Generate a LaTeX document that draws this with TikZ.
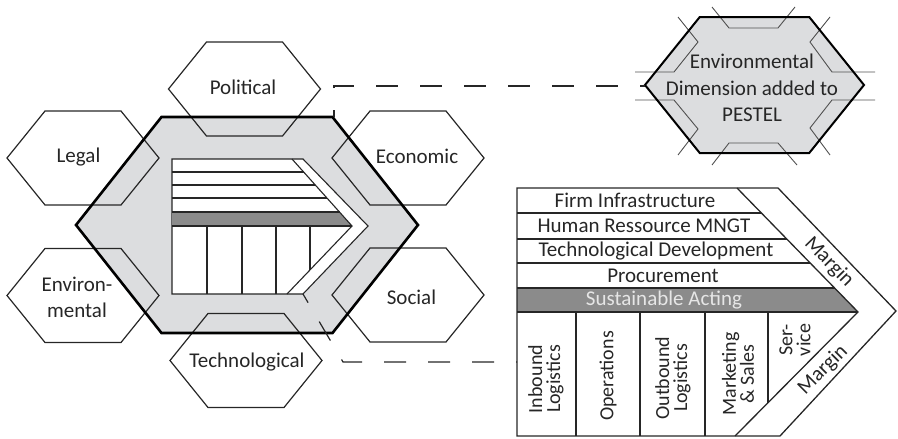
\documentclass[tikz,border=0pt]{standalone}
\usepackage{fontspec}
\setmainfont{Carlito}

\definecolor{ink}{HTML}{262626}
\definecolor{hexfill}{HTML}{DCDDDF}
\definecolor{barfill}{HTML}{8B8B8B}
\definecolor{bartext}{HTML}{E6E6E6}

% flat-topped hexagon around the current origin (half width, half height)
\newcommand{\hexa}[2]{(-#1,0) -- (-#1/2,-#2) -- (#1/2,-#2) -- (#1,0) -- (#1/2,#2) -- (-#1/2,#2) -- cycle}

\tikzset{
  pestel/.style={draw=ink, line width=1.2pt},
  coreline/.style={draw=black, line width=2.6pt, line join=miter},
  vcline/.style={draw=ink, line width=1.3pt},
  iconline/.style={draw=ink!80, line width=0.9pt},
  zoomline/.style={draw=ink, line width=1.2pt, dash pattern=on 22pt off 22pt},
  dimtext/.style={font=\fontsize{21}{25.5}\selectfont, text=ink, align=center, inner sep=0pt},
  primtext/.style={font=\fontsize{20}{18}\selectfont, text=ink, align=center, inner sep=0pt, rotate=90},
}

\begin{document}
\begin{tikzpicture}[x=1pt, y=-1pt]
  \useasboundingbox (0,0) rectangle (898,439);

  % centres of the PESTEL ring
  \coordinate (core) at (247,225);
  \coordinate (pol) at (244.5,89);
  \coordinate (leg) at (83,158);
  \coordinate (eco) at (408,158);
  \coordinate (env) at (83,295.5);
  \coordinate (soc) at (408,295);
  \coordinate (tec) at (246,360.5);

  \fill[hexfill, shift={(core)}] \hexa{171}{108};
  \foreach \c in {pol,leg,eco,env,soc,tec}
    \draw[pestel, shift={(\c)}] \hexa{76}{47};

  % small value chain inside the core
  \draw[vcline, line width=1.1pt, fill=white] (172,159) -- (303,159) -- (368,226) -- (303,294) -- (172,294) -- cycle;
  \fill[barfill] (172,212) -- (339.5,212) -- (352,226) -- (172,226) -- cycle;
  \draw[vcline, line width=1.1pt] (292,159) -- (352,226) -- (287,294);
  \draw[vcline, line width=1.1pt] (172,172) -- (303.6,172);
  \draw[vcline, line width=1.1pt] (172,185) -- (315.3,185);
  \draw[vcline, line width=1.1pt] (172,198) -- (327,198);
  \draw[vcline, line width=1.1pt] (172,212) -- (339.5,212);
  \draw[vcline, line width=1.1pt] (172,226) -- (352,226);
  \foreach \x in {207,242,276}
    \draw[vcline, line width=1.1pt] (\x,226) -- (\x,294);
  \draw[vcline, line width=1.1pt] (310,226) -- (310,270);

  \draw[coreline, shift={(core)}] \hexa{171}{108};

  \node (political) at (243,87) [dimtext] {Political};
  \node (legal) at (78.5,157) [dimtext] {Legal};
  \node (economic) at (417,156) [dimtext] {Economic};
  \node (environ) at (77,297.5) [dimtext] {Environ-\\mental};
  \node (social) at (411.5,297) [dimtext] {Social};
  \node (techno) at (247,362.5) [dimtext] {Technological};

  % small icon of the extended ring
  \coordinate (icon) at (754.5,85);
  \fill[hexfill, shift={(icon)}] \hexa{109.5}{68};
  \draw[iconline] (678,17) -- (698,42) -- (674,72) -- (635,72);
  \draw[iconline] (635,100) -- (674,100) -- (698,129) -- (678,155);
  \draw[iconline] (712,7) -- (729,28) -- (778,28) -- (795,7);
  \draw[iconline] (712,165) -- (729,143) -- (778,143) -- (797,165);
  \draw[iconline] (830,17) -- (810,42) -- (832,72) -- (875,72);
  \draw[iconline] (875,100) -- (832,100) -- (810,128) -- (830,155);
  \draw[coreline, line width=2pt, shift={(icon)}] \hexa{109.5}{68};
  \node (added) at (752,88) [dimtext, font=\fontsize{21}{26.5}\selectfont] {Environmental\\Dimension added to\\PESTEL};

  % value chain
  \fill[barfill] (517,288) -- (834.6,288) -- (858,312) -- (517,312) -- cycle;
  \draw[vcline] (517,188) -- (778,188) -- (896,311) -- (780,436) -- (517,436) -- cycle;
  \draw[vcline] (737,188) -- (858,312) -- (735,436);
  \draw[vcline] (517,213) -- (761.4,213);
  \draw[vcline] (517,239) -- (786.8,239);
  \draw[vcline] (517,263) -- (810.2,263);
  \draw[vcline] (517,288) -- (834.6,288);
  \draw[vcline] (517,312) -- (858,312);
  \foreach \x in {576,640,705}
    \draw[vcline] (\x,312) -- (\x,436);
  \draw[vcline] (768,312) -- (768,403);

  \node (firm) at (635,200.5) [dimtext] {Firm Infrastructure};
  \node (hrm) at (644,226) [dimtext] {Human Ressource MNGT};
  \node (techdev) at (656,251) [dimtext] {Technological Development};
  \node (procure) at (663,275.5) [dimtext] {Procurement};
  \node (acting) at (664,300) [dimtext, text=bartext] {Sustainable Acting};

  \node (inbound) at (546,379) [primtext] {Inbound\\Logistics};
  \node (operations) at (608,376) [primtext] {Operations};
  \node (outbound) at (673,378) [primtext] {Outbound\\Logistics};
  \node (marketing) at (738,374) [primtext] {Marketing\\\& Sales};
  \node (service) at (795,340) [primtext] {Ser-\\vice};
  \node (margintop) at (829,262) [dimtext, rotate=-45.7] {Margin};
  \node (marginbot) at (823,370) [dimtext, rotate=45] {Margin};

  % zoom connectors
  \coordinate (coreNE) at (334,117);
  \coordinate (iconW) at (645,86);
  \coordinate (sketchS) at (303,294);
  \coordinate (bend) at (343,362);
  \coordinate (chainW) at (517,362);
  \draw[zoomline, dash phase=15pt] (coreNE) |- (iconW);
  \draw[zoomline, dash phase=12pt] (sketchS) -- (bend) -- (chainW);
\end{tikzpicture}
\end{document}
